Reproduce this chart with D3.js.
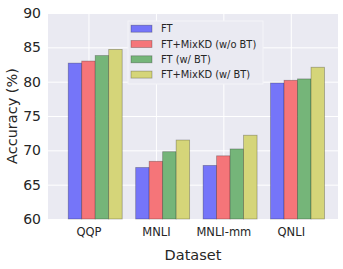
<!DOCTYPE html>
<html>
<head>
<meta charset="utf-8">
<script src="https://cdn.jsdelivr.net/npm/d3@7"></script>
<style>
  body { margin: 0; background: #fff; }
  text { font-family: "DejaVu Sans", sans-serif; fill: #262626; }
</style>
</head>
<body>
<svg id="chart" width="343" height="269"></svg>
<script>
// data
let datasets = ["QQP", "MNLI", "MNLI-mm", "QNLI"]
let seriesNames = ["FT", "FT+MixKD (w/o BT)", "FT (w/ BT)", "FT+MixKD (w/ BT)"]
let ft = [82.7, 67.5, 67.8, 79.8]
let ftMix = [83.0, 68.4, 69.2, 80.2]
let ftBT = [83.8, 69.8, 70.2, 80.4]
let ftMixBT = [84.7, 71.5, 72.2, 82.1]
let yTicks = [60, 65, 70, 75, 80, 85, 90]
let colors = ["#7575f9", "#f57579", "#75b579", "#d5d579"]

let series = [ft, ftMix, ftBT, ftMixBT]

var svgWidth = 343, svgHeight = 269
var margin = { top: 13, right: 5, bottom: 50, left: 48 }
var width = svgWidth - margin.left - margin.right
var height = svgHeight - margin.top - margin.bottom
var barW = 0.2

var svg = d3.select("#chart")
var g = svg.append("g")
    .attr("transform", "translate(" + margin.left + "," + margin.top + ")")

// bars sit at i + j*0.2, ticks at i + 0.3 (like the matplotlib source)
var x = d3.scaleLinear().domain([-0.3, 4.0]).range([0, width])
var y = d3.scaleLinear().domain([60, 90]).range([height, 0])

g.append("rect")
    .attr("width", width)
    .attr("height", height)
    .attr("fill", "#eaeaf2")

// grid
var xAxis = g.append("g")
    .attr("transform", "translate(0," + height + ")")
    .call(d3.axisBottom(x)
        .tickValues(datasets.map((d, i) => i + 0.3))
        .tickFormat((d, i) => datasets[i])
        .tickSize(-height)
        .tickPadding(9))
xAxis.select(".domain").remove()
xAxis.selectAll("line").attr("stroke", "#fff").attr("stroke-width", 1)
xAxis.selectAll("text").style("font-size", "11.5px").attr("fill", "#262626")

var yAxis = g.append("g")
    .call(d3.axisLeft(y)
        .tickValues(yTicks)
        .tickSize(-width)
        .tickPadding(7))
yAxis.select(".domain").remove()
yAxis.selectAll("line").attr("stroke", "#fff").attr("stroke-width", 1)
yAxis.selectAll("text").style("font-size", "14px").attr("fill", "#262626")

// bars
for (let j = 0; j < series.length; j++) {
    g.append("g").selectAll("rect")
        .data(series[j])
        .join("rect")
        .attr("x", (d, i) => x(i + j * barW))
        .attr("y", d => y(d))
        .attr("width", x(barW) - x(0))
        .attr("height", d => y(60) - y(d))
        .attr("fill", colors[j])
        .attr("stroke", "rgba(0,0,0,0.3)")
        .attr("stroke-width", 0.8)
}

// legend
var lg = svg.append("g").attr("transform", "translate(128,21)")
lg.append("rect")
    .attr("width", 135)
    .attr("height", 63)
    .attr("fill", "#eaeaf2")
    .attr("stroke", "#f4f4f8")
    .attr("stroke-width", 1)
seriesNames.forEach(function(name, j) {
    var row = lg.append("g").attr("transform", "translate(0," + (7.7 + j * 15.3) + ")")
    row.append("rect")
        .attr("x", 3)
        .attr("y", -3.5)
        .attr("width", 21)
        .attr("height", 7)
        .attr("fill", colors[j])
        .attr("stroke", "rgba(0,0,0,0.3)")
        .attr("stroke-width", 0.8)
    row.append("text")
        .attr("x", 33)
        .attr("y", 3.6)
        .style("font-size", "9.9px")
        .text(name)
})

// axis titles
svg.append("text")
    .attr("x", margin.left + width / 2)
    .attr("y", 260)
    .attr("text-anchor", "middle")
    .style("font-size", "14.5px")
    .text("Dataset")

svg.append("text")
    .attr("transform", "translate(16.7," + (margin.top + height / 2) + ") rotate(-90)")
    .attr("text-anchor", "middle")
    .style("font-size", "14.5px")
    .text("Accuracy (%)")
</script>
</body>
</html>
